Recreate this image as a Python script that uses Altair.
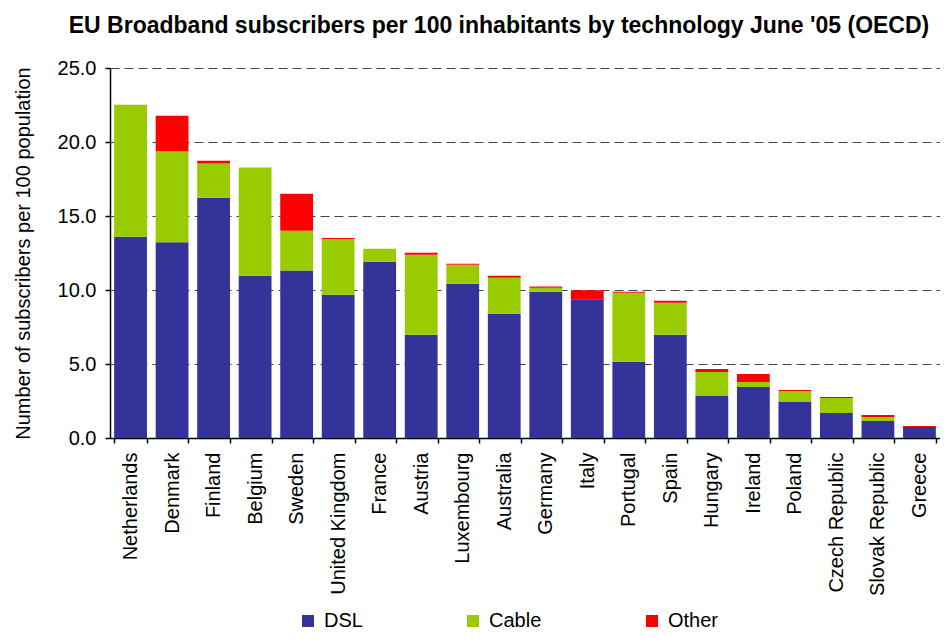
import altair as alt
import pandas as pd

countries = ["Netherlands", "Denmark", "Finland", "Belgium", "Sweden", "United Kingdom",
             "France", "Austria", "Luxembourg", "Australia", "Germany", "Italy",
             "Portugal", "Spain", "Hungary", "Ireland", "Poland", "Czech Republic",
             "Slovak Republic", "Greece"]
dsl = [13.60, 13.22, 16.24, 10.97, 11.31, 9.68, 11.91, 6.98, 10.43, 8.40, 9.89, 9.37,
       5.16, 6.98, 2.84, 3.45, 2.43, 1.69, 1.15, 0.74]
cable = [8.92, 6.15, 2.30, 7.30, 2.70, 3.77, 0.88, 5.41, 1.28, 2.43, 0.27, 0.00,
         4.66, 2.16, 1.62, 0.33, 0.75, 1.01, 0.27, 0.00]
other = [0.00, 2.41, 0.20, 0.00, 2.50, 0.06, 0.00, 0.13, 0.07, 0.14, 0.07, 0.61,
         0.07, 0.14, 0.20, 0.54, 0.06, 0.07, 0.13, 0.07]
series = ["DSL", "Cable", "Other"]
colors = ["#333399", "#99CC00", "#FF0000"]
y_ticks = [0, 5, 10, 15, 20, 25]

rows = []
for i, c in enumerate(countries):
    for k, (name, vals) in enumerate(zip(series, [dsl, cable, other])):
        rows.append({"Country": c, "Tech": name, "Value": vals[i], "Order": k})
df = pd.DataFrame(rows)

FONT = "Liberation Sans"

chart = alt.Chart(df).mark_bar().encode(
    x=alt.X("Country:N", sort=countries,
            scale=alt.Scale(paddingInner=0.21, paddingOuter=0.1),
            axis=alt.Axis(title=None, labelAngle=-90, labelFontSize=20, labelFont=FONT,
                          labelColor="black", labelPadding=9, tickBand="extent",
                          tickSize=5, tickColor="black", domainColor="black",
                          labelLimit=300)),
    y=alt.Y("Value:Q", stack="zero",
            scale=alt.Scale(domain=[0, 25], nice=False),
            axis=alt.Axis(title="Number of subscribers per 100 population",
                          values=y_ticks, format=".1f", labelFontSize=20, labelFont=FONT,
                          labelColor="black", labelPadding=9, tickSize=5,
                          tickColor="black", domainColor="black",
                          titleFontSize=20, titleFont=FONT, titleFontWeight="normal",
                          titleColor="black", titlePadding=24,
                          grid=True, gridColor="#444444", gridDash=[9, 5], gridWidth=1)),
    color=alt.Color("Tech:N", scale=alt.Scale(domain=series, range=colors),
                    legend=alt.Legend(title=None, orient="none", legendX=188, legendY=543,
                                      direction="horizontal", columns=3, columnPadding=100,
                                      symbolType="square", symbolSize=144,
                                      symbolStrokeWidth=0, symbolOpacity=1,
                                      labelFontSize=20, labelFont=FONT, labelColor="black",
                                      labelOffset=6)),
    order=alt.Order("Order:Q", sort="ascending"),
).properties(
    width=830,
    height=370,
    title=alt.TitleParams("EU Broadband subscribers per 100 inhabitants by technology June '05 (OECD)",
                          fontSize=23, font=FONT, fontWeight="bold", color="black",
                          anchor="middle", dx=-26, offset=20),
    autosize=alt.AutoSizeParams(type="none"),
    padding={"left": 102, "top": 60, "right": 0, "bottom": 195},
).configure_view(stroke=None).configure_axis(domainWidth=1.5, tickWidth=1.5)

chart.save("out.html", embed_options={"renderer": "svg", "actions": False})
